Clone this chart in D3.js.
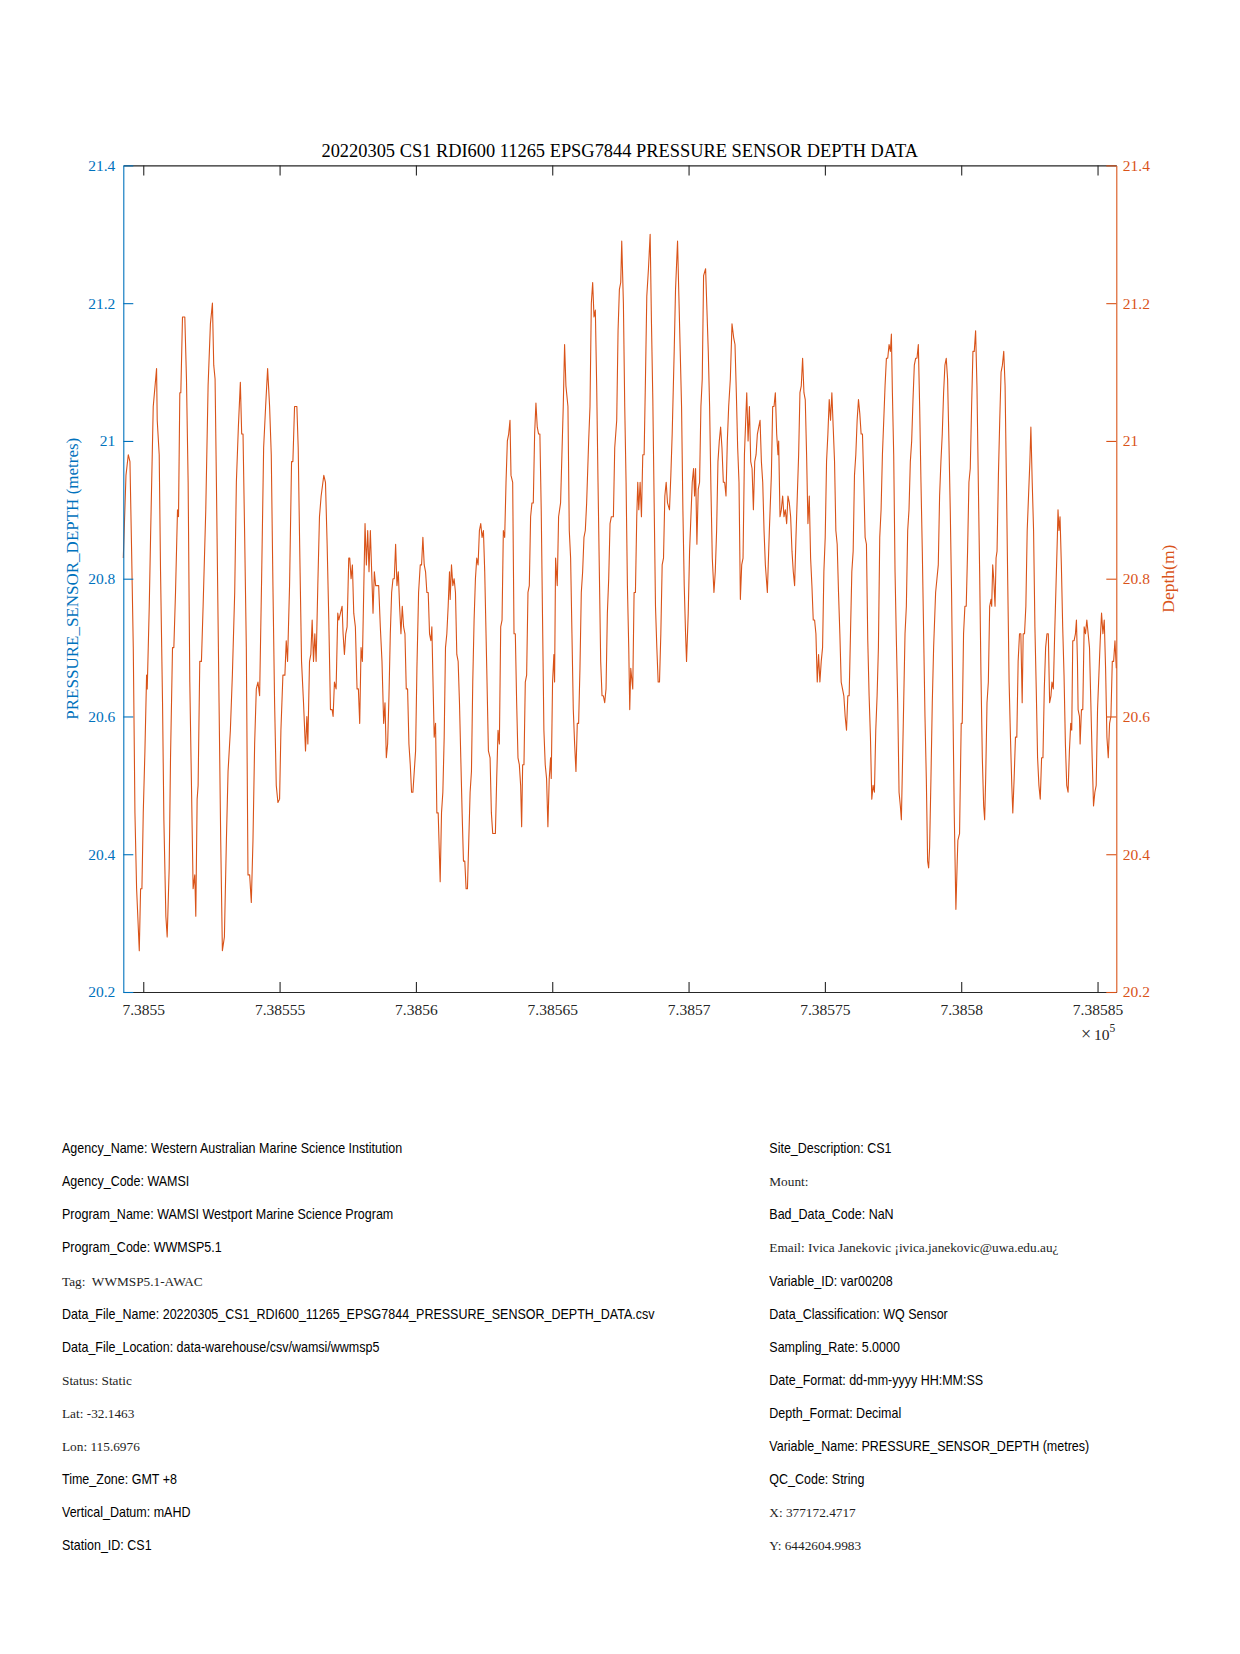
<!DOCTYPE html>
<html>
<head>
<meta charset="utf-8">
<script src="https://cdn.jsdelivr.net/npm/d3@7"></script>
<style>
  body { margin: 0; background: #fff; }
  svg { display: block; }
</style>
</head>
<body>
<svg id="chart" width="1240" height="1654"></svg>
<script>
// time is stored as days after datenum 738549 (MATLAB datenum, shown /1e5 on the axis)
const baseDatenum = 738549

const dayOffset = [
  0.268, 0.366, 0.451, 0.512, 0.573, 0.634, 0.695, 0.756, 0.854, 0.902, 0.951, 1.000, 1.061, 1.122, 1.146, 1.220,
  1.268, 1.366, 1.488, 1.512, 1.585, 1.634, 1.707, 1.756, 1.829, 1.878, 1.951, 2.000, 2.073, 2.122, 2.183, 2.256,
  2.293, 2.341, 2.378, 2.439, 2.524, 2.585, 2.646, 2.707, 2.768, 2.829, 2.890, 2.927, 2.976, 3.012, 3.073, 3.134,
  3.195, 3.293, 3.378, 3.463, 3.537, 3.585, 3.634, 3.683, 3.780, 3.841, 3.902, 3.976, 4.049, 4.110, 4.195, 4.268,
  4.354, 4.415, 4.488, 4.561, 4.610, 4.659, 4.720, 4.780, 4.841, 4.902, 4.963, 5.024, 5.085, 5.146, 5.207, 5.268,
  5.341, 5.415, 5.488, 5.561, 5.634, 5.695, 5.756, 5.817, 5.878, 5.939, 6.000, 6.049, 6.122, 6.195, 6.244, 6.293,
  6.366, 6.439, 6.488, 6.549, 6.634, 6.683, 6.732, 6.805, 6.878, 6.951, 7.000, 7.037, 7.098, 7.146, 7.195, 7.244,
  7.293, 7.341, 7.402, 7.463, 7.524,
  7.622, 7.683, 7.744, 7.805, 7.866, 7.927, 7.963, 8.012, 8.073, 8.134, 8.171, 8.232, 8.293, 8.329, 8.378, 8.427,
  8.476, 8.537, 8.573, 8.622, 8.671, 8.720, 8.780, 8.841, 8.890, 8.939, 8.988, 9.037, 9.085, 9.134, 9.183, 9.232,
  9.280, 9.329, 9.378, 9.427, 9.476, 9.524, 9.573, 9.634, 9.695, 9.756, 9.817, 9.866, 9.915, 9.963, 10.012, 10.061,
  10.110, 10.159, 10.207, 10.256, 10.305, 10.354, 10.402, 10.451, 10.500, 10.549, 10.598, 10.646, 10.695, 10.744, 10.793, 10.841,
  10.890, 10.939, 10.988, 11.037, 11.098, 11.159, 11.207, 11.256, 11.305, 11.354, 11.402, 11.451, 11.500, 11.549, 11.585, 11.622,
  11.671, 11.720, 11.768, 11.817, 11.890, 11.939, 11.988, 12.037, 12.085, 12.134, 12.183, 12.232, 12.256, 12.305, 12.354, 12.402,
  12.451, 12.500, 12.549, 12.598, 12.646, 12.695, 12.744, 12.793, 12.841, 12.890, 12.939, 12.988, 13.037, 13.085, 13.134, 13.183,
  13.232, 13.280, 13.329, 13.378, 13.427, 13.476, 13.524, 13.598, 13.659, 13.720, 13.768, 13.817, 13.866, 13.915, 13.963, 14.012,
  14.061, 14.110, 14.159, 14.207, 14.256, 14.305, 14.354, 14.402, 14.451, 14.488, 14.549, 14.598, 14.646, 14.695, 14.744, 14.793,
  14.841, 14.878, 14.915, 14.963, 15.012, 15.061, 15.110, 15.159, 15.207, 15.256, 15.305, 15.354, 15.402, 15.451, 15.500,
  15.547, 15.596, 15.645, 15.694, 15.743, 15.792, 15.841, 15.890, 15.939, 15.963, 16.012, 16.061, 16.086, 16.123, 16.184, 16.233,
  16.306, 16.355, 16.404, 16.453, 16.502, 16.576, 16.625, 16.674, 16.723, 16.772, 16.821, 16.870, 16.919, 16.968, 17.017, 17.066,
  17.115, 17.164, 17.213, 17.262, 17.336, 17.385, 17.434, 17.483, 17.532, 17.581, 17.630, 17.679, 17.728, 17.777, 17.826, 17.875,
  17.924, 17.973, 18.022, 18.071, 18.120, 18.169, 18.243, 18.292, 18.365, 18.414, 18.463, 18.512, 18.549, 18.610, 18.659, 18.708,
  18.757, 18.806, 18.843, 18.880, 18.929, 18.953, 19.002, 19.051, 19.100, 19.137, 19.174, 19.223, 19.272, 19.321, 19.370, 19.419,
  19.468, 19.529, 19.591, 19.640, 19.689, 19.738, 19.787, 19.836, 19.885, 19.934, 19.983, 20.032, 20.081, 20.130, 20.179, 20.228,
  20.301, 20.350, 20.399, 20.473, 20.522, 20.596, 20.645, 20.694, 20.743, 20.792, 20.841, 20.890, 20.926, 20.988, 21.037, 21.086,
  21.135, 21.184, 21.221, 21.257, 21.306, 21.355, 21.404, 21.453, 21.502, 21.551, 21.625, 21.674, 21.723, 21.772, 21.821, 21.870,
  21.931, 21.980, 22.029, 22.078, 22.127, 22.176, 22.225, 22.275, 22.324, 22.373, 22.422, 22.471, 22.532, 22.593, 22.654, 22.703,
  22.752, 22.801, 22.850, 22.900, 22.949, 22.998,
  23.049, 23.134, 23.183, 23.232, 23.280, 23.329, 23.378, 23.427, 23.476, 23.524, 23.573, 23.622, 23.671, 23.720, 23.768, 23.817,
  23.890, 23.963, 24.037, 24.085, 24.134, 24.183, 24.232, 24.280, 24.305, 24.354, 24.402, 24.451, 24.500, 24.549, 24.598, 24.646,
  24.695, 24.744, 24.793, 24.841, 24.890, 24.939, 24.988, 25.037, 25.085, 25.134, 25.183, 25.232, 25.280, 25.329, 25.378, 25.427,
  25.476, 25.524, 25.573, 25.622, 25.671, 25.720, 25.768, 25.817, 25.866, 25.915, 25.963, 26.012, 26.061, 26.110, 26.159, 26.207,
  26.256, 26.305, 26.354, 26.402, 26.451, 26.500, 26.549, 26.598, 26.646, 26.695, 26.744, 26.793, 26.841, 26.890, 26.939, 26.988,
  27.037, 27.085, 27.134, 27.183, 27.232, 27.280, 27.329, 27.378, 27.427, 27.476, 27.524, 27.573, 27.622, 27.671, 27.720, 27.768,
  27.817, 27.866, 27.915, 27.963, 28.012, 28.061, 28.110, 28.159, 28.207, 28.256, 28.305, 28.354, 28.402, 28.439, 28.476, 28.524,
  28.573, 28.622, 28.671, 28.720, 28.768, 28.805, 28.841, 28.890, 28.939, 28.988, 29.037, 29.085, 29.134, 29.183, 29.232, 29.280,
  29.329, 29.378, 29.427, 29.476, 29.524, 29.573, 29.622, 29.671, 29.720, 29.768, 29.805, 29.841, 29.890, 29.939, 29.988, 30.061,
  30.110, 30.159, 30.207, 30.256, 30.305, 30.354, 30.402, 30.451, 30.500, 30.549, 30.598, 30.646, 30.695, 30.744, 30.805, 30.854,
  30.877, 30.939, 31.000, 31.037, 31.086, 31.135, 31.184, 31.233, 31.283, 31.332, 31.381, 31.430, 31.479, 31.528, 31.577, 31.627,
  31.676, 31.725, 31.774, 31.823, 31.860, 31.897, 31.946, 31.995, 32.044, 32.093, 32.118, 32.155, 32.192, 32.241, 32.278, 32.314,
  32.364, 32.413, 32.462, 32.511, 32.560, 32.609, 32.658, 32.708, 32.757, 32.806, 32.855, 32.892, 32.941, 32.990, 33.039, 33.088,
  33.138, 33.187, 33.236, 33.273, 33.322, 33.371, 33.420, 33.469, 33.518, 33.555, 33.604, 33.654, 33.703, 33.752, 33.801, 33.850,
  33.899, 33.948, 33.998, 34.047, 34.096, 34.145, 34.194, 34.243, 34.292, 34.329, 34.378, 34.428, 34.477, 34.526, 34.550, 34.587,
  34.624, 34.673, 34.722, 34.771, 34.821, 34.870, 34.919, 34.968, 35.017, 35.054, 35.091, 35.140, 35.189, 35.226, 35.263, 35.287,
  35.337, 35.361, 35.410, 35.459, 35.509, 35.558, 35.607, 35.656, 35.705, 35.754, 35.803, 35.853, 35.902, 35.951, 36.000, 36.049,
  36.098, 36.147, 36.197, 36.246, 36.295, 36.344, 36.393, 36.442, 36.491, 36.541, 36.590, 36.639, 36.688
]

const depth = [
  20.83, 20.95, 20.98, 20.97, 20.84, 20.70, 20.46, 20.35, 20.26, 20.35, 20.35, 20.46, 20.55, 20.66, 20.64, 20.76,
  20.86, 21.05, 21.105, 21.03, 20.98, 20.81, 20.62, 20.45, 20.31, 20.28, 20.38, 20.54, 20.70, 20.70, 20.78, 20.90,
  20.89, 21.07, 21.07, 21.18, 21.18, 21.09, 20.94, 20.65, 20.50, 20.35, 20.37, 20.31, 20.48, 20.50, 20.68, 20.68,
  20.76, 20.90, 21.08, 21.17, 21.20, 21.11, 21.09, 20.94, 20.62, 20.42, 20.26, 20.28, 20.42, 20.52, 20.58, 20.66,
  20.78, 20.94, 21.02, 21.085, 21.01, 21.01, 20.86, 20.70, 20.37, 20.37, 20.33, 20.42, 20.56, 20.64, 20.65, 20.63,
  20.80, 20.99, 21.05, 21.105, 21.05, 20.98, 20.79, 20.62, 20.50, 20.475, 20.48, 20.58, 20.66, 20.66, 20.71, 20.68,
  20.79, 20.97, 20.97, 21.05, 21.05, 20.99, 20.86, 20.68, 20.62, 20.55, 20.60, 20.56, 20.68, 20.69, 20.74, 20.68,
  20.72, 20.68, 20.79, 20.89, 20.92,
  20.95, 20.94, 20.85, 20.74, 20.61, 20.61, 20.60, 20.65, 20.64, 20.75, 20.74, 20.75, 20.76, 20.72, 20.69, 20.72,
  20.73, 20.83, 20.83, 20.80, 20.82, 20.75, 20.73, 20.64, 20.64, 20.59, 20.70, 20.68, 20.78, 20.88, 20.82, 20.87,
  20.81, 20.87, 20.81, 20.75, 20.81, 20.79, 20.79, 20.79, 20.73, 20.68, 20.59, 20.62, 20.54, 20.56, 20.63, 20.72,
  20.78, 20.80, 20.80, 20.85, 20.79, 20.81, 20.76, 20.72, 20.76, 20.73, 20.72, 20.64, 20.64, 20.56, 20.53, 20.49,
  20.49, 20.52, 20.55, 20.67, 20.78, 20.82, 20.82, 20.86, 20.82, 20.81, 20.78, 20.78, 20.72, 20.71, 20.73, 20.66,
  20.57, 20.59, 20.46, 20.46, 20.36, 20.46, 20.49, 20.57, 20.70, 20.72, 20.76, 20.81, 20.77, 20.82, 20.79, 20.80,
  20.78, 20.69, 20.68, 20.62, 20.54, 20.46, 20.39, 20.39, 20.35, 20.35, 20.42, 20.49, 20.52, 20.65, 20.74, 20.80,
  20.83, 20.82, 20.87, 20.88, 20.86, 20.87, 20.81, 20.67, 20.55, 20.54, 20.46, 20.43, 20.43, 20.43, 20.51, 20.58,
  20.56, 20.73, 20.74, 20.87, 20.86, 20.94, 21.00, 21.01, 21.03, 20.95, 20.94, 20.72, 20.72, 20.62, 20.54, 20.53,
  20.50, 20.44, 20.53, 20.53, 20.65, 20.66, 20.78, 20.79, 20.89, 20.91, 20.91, 21.01, 21.055, 21.02, 21.01,
  21.01, 20.90, 20.74, 20.58, 20.53, 20.51, 20.44, 20.51, 20.54, 20.51, 20.65, 20.69, 20.65, 20.83, 20.79, 20.89,
  20.91, 20.98, 21.05, 21.14, 21.08, 21.05, 20.87, 20.83, 20.72, 20.61, 20.56, 20.52, 20.59, 20.59, 20.67, 20.78,
  20.81, 20.86, 20.87, 20.91, 21.00, 21.05, 21.20, 21.23, 21.18, 21.19, 21.08, 20.94, 20.81, 20.68, 20.63, 20.63,
  20.62, 20.64, 20.75, 20.80, 20.88, 20.89, 20.89, 20.99, 21.03, 21.16, 21.22, 21.23, 21.29, 21.20, 21.05, 20.94,
  20.79, 20.70, 20.61, 20.67, 20.65, 20.64, 20.78, 20.78, 20.89, 20.94, 20.90, 20.94, 20.89, 20.98, 20.98, 21.09,
  21.21, 21.25, 21.30, 21.17, 21.06, 20.91, 20.76, 20.70, 20.65, 20.65, 20.72, 20.82, 20.83, 20.92, 20.94, 20.91,
  20.90, 20.95, 21.01, 21.13, 21.22, 21.29, 21.21, 21.13, 21.05, 20.90, 20.79, 20.72, 20.68, 20.75, 20.84, 20.89,
  20.94, 20.96, 20.92, 20.96, 20.85, 20.93, 20.94, 21.05, 21.09, 21.24, 21.25, 21.19, 21.13, 21.05, 20.93, 20.83,
  20.78, 20.81, 20.87, 20.97, 21.00, 21.02, 20.99, 20.94, 20.94, 20.92, 21.00, 21.05, 21.09, 21.17, 21.15, 21.14,
  21.07, 20.99, 20.94, 20.77, 20.82, 20.83,
  20.98, 21.07, 21.00, 21.05, 20.97, 20.96, 20.90, 20.97, 20.98, 21.01, 21.02, 21.03, 20.97, 20.94, 20.87, 20.82,
  20.78, 20.87, 20.95, 21.05, 21.05, 21.07, 21.01, 20.98, 21.00, 20.89, 20.90, 20.92, 20.89, 20.90, 20.88, 20.92,
  20.91, 20.89, 20.84, 20.81, 20.79, 20.86, 20.92, 20.98, 21.07, 21.08, 21.12, 21.07, 21.06, 20.98, 20.88, 20.92,
  20.83, 20.79, 20.74, 20.74, 20.72, 20.65, 20.69, 20.65, 20.68, 20.70, 20.81, 20.86, 20.97, 21.01, 21.06, 21.03,
  21.07, 21.02, 20.97, 20.87, 20.85, 20.78, 20.72, 20.65, 20.64, 20.63, 20.60, 20.58, 20.63, 20.63, 20.72, 20.81,
  20.84, 20.95, 20.98, 21.03, 21.06, 21.04, 21.01, 21.01, 20.94, 20.86, 20.85, 20.71, 20.63, 20.57, 20.48, 20.50,
  20.49, 20.58, 20.63, 20.70, 20.86, 20.90, 20.98, 21.03, 21.08, 21.12, 21.12, 21.14, 21.13, 21.155, 21.07, 20.98,
  20.81, 20.71, 20.62, 20.49, 20.47, 20.45, 20.52, 20.62, 20.72, 20.76, 20.87, 20.90, 20.97, 21.00, 21.06, 21.11,
  21.12, 21.12, 21.14, 21.05, 20.94, 20.84, 20.72, 20.60, 20.51, 20.39, 20.38, 20.41, 20.51, 20.62, 20.70, 20.78,
  20.80, 20.82, 20.92, 20.97, 21.01, 21.07, 21.11, 21.12, 21.09, 21.00, 20.90, 20.78, 20.62, 20.46, 20.32, 20.39,
  20.42, 20.43, 20.59, 20.59, 20.72, 20.76, 20.76, 20.84, 20.94, 20.96, 21.05, 21.13, 21.13, 21.16, 21.08, 20.94,
  20.81, 20.66, 20.54, 20.47, 20.45, 20.51, 20.62, 20.65, 20.76, 20.77, 20.76, 20.82, 20.80, 20.76, 20.83, 20.84,
  20.95, 21.03, 21.10, 21.11, 21.13, 21.08, 20.94, 20.79, 20.65, 20.57, 20.50, 20.46, 20.51, 20.57, 20.57, 20.68,
  20.72, 20.72, 20.62, 20.72, 20.72, 20.76, 20.87, 20.92, 20.97, 21.02, 20.94, 20.87, 20.73, 20.64, 20.54, 20.50,
  20.48, 20.54, 20.54, 20.64, 20.70, 20.72, 20.72, 20.62, 20.63, 20.65, 20.64, 20.72, 20.79, 20.86, 20.90, 20.87,
  20.89, 20.82, 20.73, 20.66, 20.56, 20.50, 20.49, 20.55, 20.59, 20.58, 20.71, 20.71, 20.72, 20.74, 20.68, 20.61,
  20.60, 20.56, 20.61, 20.61, 20.73, 20.72, 20.74, 20.72, 20.70, 20.62, 20.54, 20.47, 20.49, 20.50, 20.61, 20.66,
  20.71, 20.75, 20.72, 20.74, 20.67, 20.57, 20.54, 20.59, 20.60, 20.68, 20.68, 20.71, 20.67
]

const xTicks = [738550, 738555, 738560, 738565, 738570, 738575, 738580, 738585]
const yTicks = [20.2, 20.4, 20.6, 20.8, 21, 21.2, 21.4]
const yLimits = [20.2, 21.4]

const titleText = "20220305 CS1 RDI600 11265 EPSG7844 PRESSURE SENSOR DEPTH DATA"
const leftLabel = "PRESSURE_SENSOR_DEPTH (metres)"
const rightLabel = "Depth(m)"

// serif: true marks lines that were typeset with the LaTeX interpreter
const leftMeta = [
  { text: "Agency_Name: Western Australian Marine Science Institution", serif: false },
  { text: "Agency_Code: WAMSI", serif: false },
  { text: "Program_Name: WAMSI Westport Marine Science Program", serif: false },
  { text: "Program_Code: WWMSP5.1", serif: false },
  { text: "Tag:  WWMSP5.1-AWAC", serif: true },
  { text: "Data_File_Name: 20220305_CS1_RDI600_11265_EPSG7844_PRESSURE_SENSOR_DEPTH_DATA.csv", serif: false },
  { text: "Data_File_Location: data-warehouse/csv/wamsi/wwmsp5", serif: false },
  { text: "Status: Static", serif: true },
  { text: "Lat: -32.1463", serif: true },
  { text: "Lon: 115.6976", serif: true },
  { text: "Time_Zone: GMT +8", serif: false },
  { text: "Vertical_Datum: mAHD", serif: false },
  { text: "Station_ID: CS1", serif: false }
]
const rightMeta = [
  { text: "Site_Description: CS1", serif: false },
  { text: "Mount:", serif: true },
  { text: "Bad_Data_Code: NaN", serif: false },
  { text: "Email: Ivica Janekovic ¡ivica.janekovic@uwa.edu.au¿", serif: true },
  { text: "Variable_ID: var00208", serif: false },
  { text: "Data_Classification: WQ Sensor", serif: false },
  { text: "Sampling_Rate: 5.0000", serif: false },
  { text: "Date_Format: dd-mm-yyyy HH:MM:SS", serif: false },
  { text: "Depth_Format: Decimal", serif: false },
  { text: "Variable_Name: PRESSURE_SENSOR_DEPTH (metres)", serif: false },
  { text: "QC_Code: String", serif: false },
  { text: "X: 377172.4717", serif: true },
  { text: "Y: 6442604.9983", serif: true }
]

const plot = { left: 123.3, right: 1116.3, top: 165.4, bottom: 992 }
const blue = "#0072BD"
const orange = "#D95319"
const axisGrey = "#262626"
const serifFont = '"Liberation Serif", "DejaVu Serif", serif'
const sansFont = '"Liberation Sans", Arial, sans-serif'

const svg = d3.select("#chart")
svg.append("rect").attr("width", 1240).attr("height", 1654).attr("fill", "#fff")

const series = d3.zip(dayOffset, depth).map(([t, v]) => ({ datenum: baseDatenum + t, depth: v }))

const xScale = d3.scaleLinear()
  .domain(d3.extent(series, d => d.datenum))
  .range([plot.left, plot.right])
const yScale = d3.scaleLinear()
  .domain(yLimits)
  .range([plot.bottom, plot.top])

const styleAxis = (sel, colour) => {
  sel.select(".domain").attr("stroke", colour).attr("stroke-width", 1.1)
  sel.selectAll(".tick line").attr("stroke", colour).attr("stroke-width", 1.1)
  sel.selectAll(".tick text")
    .attr("fill", colour)
    .style("font-family", serifFont)
    .style("font-size", "15.5px")
}

// data line
svg.append("path")
  .datum(series)
  .attr("fill", "none")
  .attr("stroke", orange)
  .attr("stroke-width", 1.1)
  .attr("stroke-linejoin", "round")
  .attr("d", d3.line().x(d => xScale(d.datenum)).y(d => yScale(d.depth)))

// x axes (bottom with labels, top mirror)
const xFormat = d => String(+(d / 1e5).toFixed(5))
svg.append("g")
  .attr("transform", `translate(0,${plot.bottom})`)
  .call(d3.axisBottom(xScale).tickValues(xTicks).tickSizeInner(-10).tickSizeOuter(0).tickPadding(12).tickFormat(xFormat))
  .call(sel => styleAxis(sel, axisGrey))
svg.append("g")
  .attr("transform", `translate(0,${plot.top})`)
  .call(d3.axisTop(xScale).tickValues(xTicks).tickSizeInner(-10).tickSizeOuter(0).tickFormat(() => ""))
  .call(sel => styleAxis(sel, axisGrey))

// y axes, left blue and right orange
const yFormat = d => String(+d.toFixed(1))
svg.append("g")
  .attr("transform", `translate(${plot.left},0)`)
  .call(d3.axisLeft(yScale).tickValues(yTicks).tickSizeInner(-10).tickSizeOuter(0).tickPadding(8).tickFormat(yFormat))
  .call(sel => styleAxis(sel, blue))
svg.append("g")
  .attr("transform", `translate(${plot.right},0)`)
  .call(d3.axisRight(yScale).tickValues(yTicks).tickSizeInner(-10).tickSizeOuter(0).tickPadding(6.5).tickFormat(yFormat))
  .call(sel => styleAxis(sel, orange))

// exponent note under the x axis
const expo = svg.append("text")
  .attr("x", plot.right - 1)
  .attr("y", 1040)
  .attr("text-anchor", "end")
  .attr("fill", axisGrey)
  .style("font-family", serifFont)
  .style("font-size", "15.5px")
expo.append("tspan").style("font-size", "18px").text("×")
expo.append("tspan").attr("dx", 3).text("10")
expo.append("tspan").attr("dy", -8).style("font-size", "11.5px").text("5")

// title and axis labels
svg.append("text")
  .attr("x", (plot.left + plot.right) / 2)
  .attr("y", 157.3)
  .attr("text-anchor", "middle")
  .attr("fill", "#000")
  .style("font-family", serifFont)
  .style("font-size", "18.4px")
  .text(titleText)

const midY = (plot.top + plot.bottom) / 2
svg.append("text")
  .attr("transform", `translate(72.3,${midY}) rotate(-90)`)
  .attr("text-anchor", "middle")
  .attr("dominant-baseline", "central")
  .attr("fill", blue)
  .style("font-family", serifFont)
  .style("font-size", "17px")
  .text(leftLabel)
svg.append("text")
  .attr("transform", `translate(1167.5,${midY}) rotate(-90)`)
  .attr("text-anchor", "middle")
  .attr("dominant-baseline", "central")
  .attr("fill", orange)
  .style("font-family", serifFont)
  .style("font-size", "17.5px")
  .text(rightLabel)

// metadata block
const drawMeta = (lines, x) => {
  svg.append("g")
    .selectAll("text")
    .data(lines)
    .enter()
    .append("text")
    .attr("transform", (d, i) => {
      const y = 1153.3 + i * 33.05
      return d.serif ? `translate(${x},${y})` : `translate(${x},${y}) scale(0.893,1)`
    })
    .attr("fill", d => d.serif ? "#1e1e1e" : "#000")
    .style("font-family", d => d.serif ? serifFont : sansFont)
    .style("font-size", d => d.serif ? "13.3px" : "14px")
    .style("white-space", "pre")
    .text(d => d.text)
}
drawMeta(leftMeta, 62)
drawMeta(rightMeta, 769.3)
</script>
</body>
</html>
